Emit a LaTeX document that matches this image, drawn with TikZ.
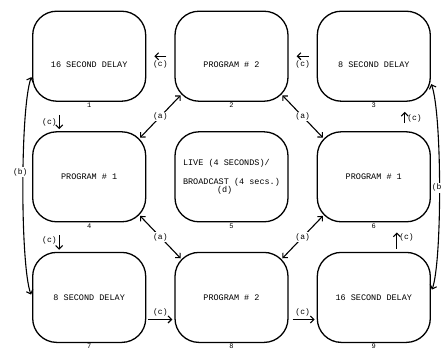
\documentclass[tikz,border=0pt]{standalone}
\usepackage{fontspec}
\setmonofont{Liberation Mono}
\usepackage{tikz}
\usetikzlibrary{
  arrows,
  arrows.meta,
  matrix,
  positioning
}

\begin{document}
\begin{tikzpicture}[
      x=1pt,y=1pt,
      screen/.style={
         rectangle,
         rounded corners=24pt,
         minimum width=113pt,
         minimum height=90pt,
         line width=1.3pt,
         draw=black,
         font=\ttfamily\fontsize{8.5}{10}\selectfont,
         inner sep=2pt
      },
      toprow/.style={text height=24pt,text depth=2pt},
      tvnum/.style={label={[inner sep=0.5pt,font=\ttfamily\fontsize{7}{8}\selectfont]below:#1}},
      tag/.style={font=\ttfamily\fontsize{8}{9}\selectfont,inner sep=1pt},
      >={Straight Barb[length=3.5pt,width=7pt]},line width=1.1pt,
      tip/.style={->,shorten >=2pt,shorten <=2pt},
      both/.style={<->,shorten >=-9pt,shorten <=-9pt},
    ]
    \useasboundingbox (0,0) rectangle (441,-351);
    \matrix (m) [anchor=north west, inner sep=0pt, column sep=28pt, row sep=23pt] at (31.5,-10) {
\node (n11) [screen,toprow,tvnum=1] {16 SECOND DELAY}; & \node (n12) [screen,toprow,tvnum=2] {PROGRAM \# 2}; & \node (n13) [screen,toprow,tvnum=3] {8 SECOND DELAY};\\
\node (n21) [screen,tvnum=4] {PROGRAM \# 1}; & \node (n22) [screen,align=left,tvnum=5] {LIVE (4 SECONDS)/\\[9pt]BROADCAST (4 secs.)\\[-2pt]\hspace*{4em}(d)}; & \node (n23) [screen,tvnum=6] {PROGRAM \# 1};\\
\node (n31) [screen,tvnum=7] {8 SECOND DELAY}; & \node (n32) [screen,tvnum=8] {PROGRAM \# 2}; & \node (n33) [screen,tvnum=9] {16 SECOND DELAY};\\
    };
  % (c) steps round the ring
  \draw[tip,shorten >=8pt,shorten <=8pt] (n12.west) -- (n11.east) node[tag,midway,below=3pt] {(c)};
  \draw[tip,shorten >=8pt,shorten <=8pt] (n13.west) -- (n12.east) node[tag,midway,below=3pt] {(c)};
  \draw[tip,shorten <=13pt] ([xshift=-30pt]n11.south) -- ([xshift=-30pt]n21.north) node[tag,pos=0.7,left=1pt] {(c)};
  \draw[tip,shorten <=13pt] ([xshift=-30pt]n21.south) -- ([xshift=-30pt]n31.north) node[tag,pos=0.6,left=1pt] {(c)};
  \draw[tip] ([yshift=-22pt]n31.east) -- ([yshift=-22pt]n32.west) node[tag,midway,above=2pt] {(c)};
  \draw[tip,shorten <=4pt] ([yshift=-22pt]n32.east) -- ([yshift=-22pt]n33.west) node[tag,midway,above=2pt] {(c)};
  \draw[tip,shorten <=3pt,shorten >=10pt] ([xshift=23pt]n33.north) -- ([xshift=23pt]n23.south) node[tag,pos=0.5,right=1pt] {(c)};
  \draw[tip,shorten <=8pt,shorten >=10pt] ([xshift=31pt]n23.north) -- ([xshift=31pt]n13.south) node[tag,pos=0.45,right=1pt] {(c)};
  % (a) links through the corners
  \draw[both] (n21.north east) -- (n12.south west) node[tag,midway,fill=white] {(a)};
  \draw[both] (n12.south east) -- (n23.north west) node[tag,midway,fill=white] {(a)};
  \draw[both] (n21.south east) -- (n32.north west) node[tag,midway,fill=white] {(a)};
  \draw[both] (n32.north east) -- (n23.south west) node[tag,midway,fill=white] {(a)};
  % (b) long links at the sides
  \draw[<->,shorten <=2pt,shorten >=3pt] ([yshift=-19pt]n11.west) to[out=250,in=110,looseness=0.4]
       node[tag,pos=0.45,fill=white,xshift=-3pt] {(b)} (n31.west);
  \draw[<->,shorten <=1pt,shorten >=3pt] ([yshift=-27pt]n13.east) to[out=-70,in=70,looseness=0.4]
       node[tag,pos=0.5,fill=white,anchor=west,xshift=-9pt] {(b)} ([yshift=5pt]n33.east);
\end{tikzpicture}
\end{document}
